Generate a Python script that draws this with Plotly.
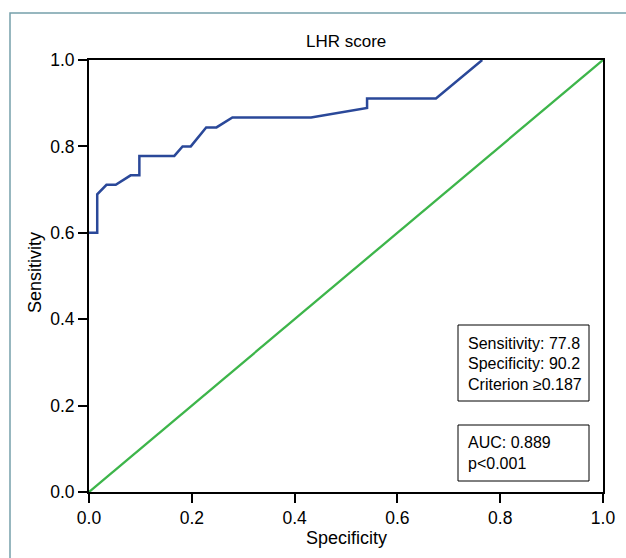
import plotly.graph_objects as go

# ROC curve points (1 - specificity, sensitivity)
fpr = [0.0, 0.016, 0.016, 0.034, 0.052, 0.081, 0.098, 0.098, 0.166, 0.182,
       0.198, 0.228, 0.248, 0.279, 0.432, 0.541, 0.541, 0.675, 0.765]
tpr = [0.6, 0.6, 0.689, 0.711, 0.711, 0.733, 0.733, 0.778, 0.778, 0.8,
       0.8, 0.844, 0.844, 0.867, 0.867, 0.889, 0.911, 0.911, 1.0]
ref_x = [0.0, 1.0]
ref_y = [0.0, 1.0]

tick_vals = [0.0, 0.2, 0.4, 0.6, 0.8, 1.0]
tick_text = ["0.0", "0.2", "0.4", "0.6", "0.8", "1.0"]

title_text = "LHR score"
x_title = "Specificity"
y_title = "Sensitivity"
box1_lines = ["Sensitivity: 77.8", "Specificity: 90.2", "Criterion \u22650.187"]
box2_lines = ["AUC: 0.889", "p<0.001"]

W, H = 626, 558
L, R, T, B = 89, 23, 60, 66
PW, PH = W - L - R, H - T - B

def px_to_paper_x(px):
    return (px - L) / PW

def px_to_paper_y(py):
    return (H - B - py) / PH

FONT = "Liberation Sans, Arial, sans-serif"

fig = go.Figure()
fig.add_trace(go.Scatter(x=ref_x, y=ref_y, mode="lines",
                         line=dict(color="#3db54a", width=2.3), hoverinfo="skip"))
fig.add_trace(go.Scatter(x=fpr, y=tpr, mode="lines",
                         line=dict(color="#2a4899", width=2.5), hoverinfo="skip"))

axis_common = dict(
    range=[0, 1], showgrid=False, zeroline=False,
    showline=True, linecolor="black", linewidth=2, mirror=True,
    ticks="outside", ticklen=9, tickwidth=2, tickcolor="black",
    tickvals=tick_vals, ticktext=tick_text,
    tickfont=dict(family=FONT, size=17.5, color="black"),
    layer="above traces", fixedrange=True,
)

fig.update_layout(
    width=W, height=H,
    margin=dict(l=L, r=R, t=T, b=B, autoexpand=False),
    paper_bgcolor="white", plot_bgcolor="white",
    showlegend=False,
    xaxis=axis_common,
    yaxis=axis_common,
    font=dict(family=FONT, color="black"),
)

shapes = []
# outer frame
shapes.append(dict(type="rect", xref="paper", yref="paper",
                   x0=px_to_paper_x(10), x1=px_to_paper_x(660),
                   y0=px_to_paper_y(600), y1=px_to_paper_y(13),
                   line=dict(color="#76a0ab", width=1.5), fillcolor="rgba(0,0,0,0)",
                   layer="below"))
# info boxes
shapes.append(dict(type="rect", xref="paper", yref="paper",
                   x0=px_to_paper_x(458), x1=px_to_paper_x(589),
                   y0=px_to_paper_y(401), y1=px_to_paper_y(325),
                   line=dict(color="black", width=1), fillcolor="white"))
shapes.append(dict(type="rect", xref="paper", yref="paper",
                   x0=px_to_paper_x(458), x1=px_to_paper_x(589),
                   y0=px_to_paper_y(481), y1=px_to_paper_y(425),
                   line=dict(color="black", width=1), fillcolor="white"))
fig.update_layout(shapes=shapes)

annotations = []
annotations.append(dict(text=title_text, xref="paper", yref="paper",
                        x=0.5, y=px_to_paper_y(42), showarrow=False,
                        xanchor="center", yanchor="middle",
                        font=dict(family=FONT, size=17, color="black")))
annotations.append(dict(text=x_title, xref="paper", yref="paper",
                        x=0.5, y=px_to_paper_y(538), showarrow=False,
                        xanchor="center", yanchor="middle",
                        font=dict(family=FONT, size=18, color="black")))
annotations.append(dict(text=y_title, xref="paper", yref="paper",
                        x=px_to_paper_x(35), y=px_to_paper_y(273), showarrow=False,
                        xanchor="center", yanchor="middle", textangle=-90,
                        font=dict(family=FONT, size=18, color="black")))
for i, line in enumerate(box1_lines):
    annotations.append(dict(text=line, xref="paper", yref="paper",
                            x=px_to_paper_x(466), y=px_to_paper_y(343.5 + 20.3 * i),
                            showarrow=False, xanchor="left", yanchor="middle",
                            font=dict(family=FONT, size=16, color="black")))
for i, line in enumerate(box2_lines):
    annotations.append(dict(text=line, xref="paper", yref="paper",
                            x=px_to_paper_x(466), y=px_to_paper_y(442 + 21.5 * i),
                            showarrow=False, xanchor="left", yanchor="middle",
                            font=dict(family=FONT, size=16, color="black")))
fig.update_layout(annotations=annotations)

fig.write_html("out.html", config={"displayModeBar": False},
               post_script="document.body.style.margin='0';document.body.style.overflow='hidden';")
